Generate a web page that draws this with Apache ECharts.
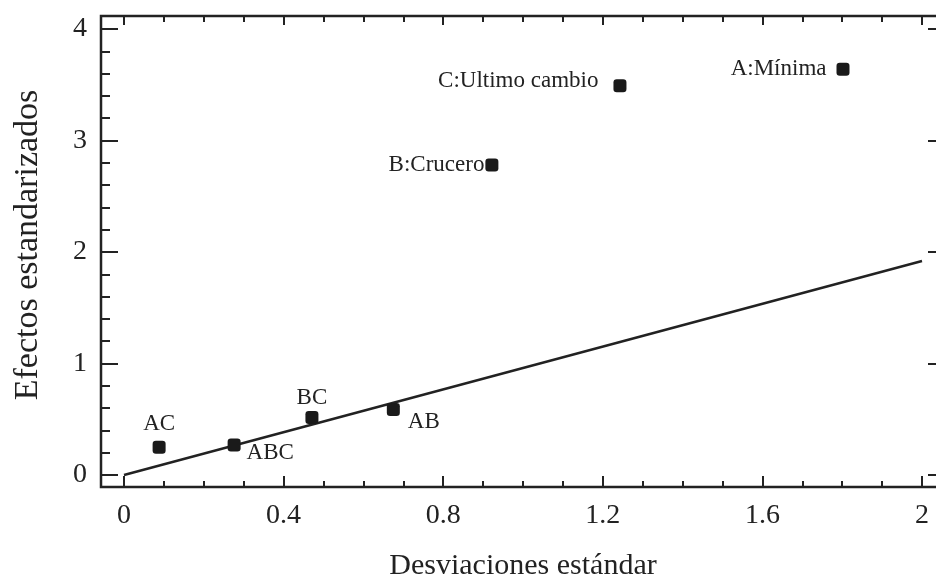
<!DOCTYPE html>
<html>
<head>
<meta charset="utf-8">
<script src="https://cdn.jsdelivr.net/npm/echarts@6/dist/echarts.min.js"></script>
<style>html,body{margin:0;padding:0;background:#fff}#c{width:936px;height:585px}</style>
</head>
<body>
<div id="c"></div>
<script>
const pointNames = ['AC', 'ABC', 'BC', 'AB', 'B:Crucero', 'C:Ultimo cambio', 'A:Mínima'];
const pointX = [0.088, 0.276, 0.471, 0.675, 0.922, 1.243, 1.802];
const pointY = [0.25, 0.27, 0.516, 0.587, 2.78, 3.49, 3.64];
const lineX = [0, 2];
const lineY = [0, 1.92];
const xTicks = [0, 0.4, 0.8, 1.2, 1.6, 2];
const yTicks = [0, 1, 2, 3, 4];

const FONT = '"Liberation Serif", "DejaVu Serif", serif';
const INK = '#222';

const labelStyles = {
  'AC': {position: 'top', distance: 5},
  'ABC': {position: 'right', distance: 6, offset: [0, 8]},
  'BC': {position: 'top', distance: 2},
  'AB': {position: 'right', distance: 8, offset: [0, 12]},
  'B:Crucero': {position: 'left', distance: 1},
  'C:Ultimo cambio': {position: 'left', distance: 15, offset: [0, -5]},
  'A:Mínima': {position: 'left', distance: 10}
};

const scatterData = pointNames.map((n, i) => ({
  name: n,
  value: [pointX[i], pointY[i]],
  label: Object.assign({show: true, formatter: '{b}', color: INK, opacity: 1, fontFamily: FONT, fontSize: 23}, labelStyles[n])
}));

const chart = echarts.init(document.getElementById('c'), null, {renderer: 'canvas'});

const X0 = xTicks[0], X1 = xTicks[xTicks.length - 1];
const Y0 = yTicks[0], Y1 = yTicks[yTicks.length - 1];
const tickLine = {color: INK, width: 2};

function hidden(gridIndex, min, max) {
  return {type: 'value', gridIndex, show: false, min, max, splitLine: {show: false}};
}

chart.setOption({
  animation: false,
  backgroundColor: '#fff',
  grid: [
    // 0: data area
    {left: 124, right: 14, top: 29, bottom: 110, show: false, outerBoundsMode: 'none'},
    // 1: x tick axes (bottom & top frame edges)
    {left: 124, right: 14, top: 16, bottom: 98, show: false, outerBoundsMode: 'none'},
    // 2: y tick axes (left & right frame edges)
    {left: 101, width: 844, top: 29, bottom: 110, show: false, outerBoundsMode: 'none'},
    // 3: frame
    {left: 101, top: 16, width: 844, height: 471, show: true, borderColor: INK, borderWidth: 2.5, backgroundColor: 'transparent', outerBoundsMode: 'none'}
  ],
  xAxis: [
    hidden(0, X0, X1),
    {
      type: 'value', gridIndex: 1, position: 'bottom', min: X0, max: X1, interval: 0.4,
      axisLine: {show: false}, splitLine: {show: false},
      axisTick: {inside: true, length: 11, lineStyle: tickLine},
      minorTick: {show: true, splitNumber: 4, length: 6, lineStyle: tickLine},
      axisLabel: {margin: 15, color: INK, fontFamily: FONT, fontSize: 28,
        formatter: v => String(+v.toFixed(1))},
      name: 'Desviaciones estándar', nameLocation: 'middle', nameGap: 64,
      nameTextStyle: {color: INK, fontFamily: FONT, fontSize: 30}
    },
    {
      type: 'value', gridIndex: 1, position: 'top', min: X0, max: X1, interval: 0.4,
      axisLine: {show: false}, splitLine: {show: false},
      axisTick: {inside: true, length: 9, lineStyle: tickLine},
      minorTick: {show: true, splitNumber: 4, length: 6, lineStyle: tickLine},
      axisLabel: {show: false}
    },
    hidden(2, 0, 1),
    hidden(3, 0, 1)
  ],
  yAxis: [
    hidden(0, Y0, Y1),
    hidden(1, 0, 1),
    {
      type: 'value', gridIndex: 2, position: 'left', min: Y0, max: Y1, interval: 1,
      axisLine: {show: false}, splitLine: {show: false},
      axisTick: {inside: true, length: 17, lineStyle: tickLine},
      minorTick: {show: true, splitNumber: 5, length: 9, lineStyle: tickLine},
      axisLabel: {margin: 14, color: INK, fontFamily: FONT, fontSize: 28},
      name: 'Efectos estandarizados', nameLocation: 'middle', nameGap: 56,
      nameTextStyle: {color: INK, fontFamily: FONT, fontSize: 34, padding: [0, 0, 0, 14]}
    },
    {
      type: 'value', gridIndex: 2, position: 'right', min: Y0, max: Y1, interval: 1,
      axisLine: {show: false}, splitLine: {show: false},
      axisTick: {inside: true, length: 17, lineStyle: tickLine},
      minorTick: {show: true, splitNumber: 5, length: 9, lineStyle: tickLine},
      axisLabel: {show: false}
    },
    hidden(3, 0, 1)
  ],
  series: [
    {
      type: 'line', xAxisIndex: 0, yAxisIndex: 0,
      data: lineX.map((x, i) => [x, lineY[i]]),
      symbol: 'none', clip: false,
      lineStyle: {color: INK, width: 2.5}
    },
    {
      type: 'scatter', xAxisIndex: 0, yAxisIndex: 0,
      symbol: 'roundRect', symbolSize: 13,
      itemStyle: {color: '#1a1a1a', opacity: 1},
      data: scatterData,
      z: 3
    }
  ]
});
</script>
</body>
</html>
